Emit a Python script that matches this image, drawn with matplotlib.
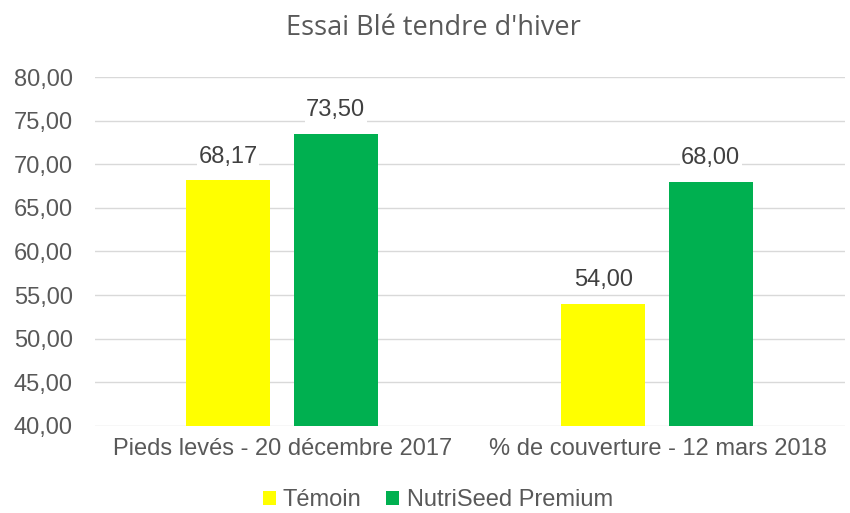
import matplotlib.pyplot as plt
import numpy as np

categories = ['Pieds levés - 20 décembre 2017', '% de couverture - 12 mars 2018']
temoin = [68.17, 54.00]
nutriseed = [73.50, 68.00]
series_names = ['Témoin', 'NutriSeed Premium']
y_ticks = [40, 45, 50, 55, 60, 65, 70, 75, 80]

YELLOW = '#FFFF00'
GREEN = '#00B050'
TEXT = '#595959'

plt.rcParams['font.family'] = ['Liberation Sans', 'DejaVu Sans']

fig = plt.figure(figsize=(8.5, 5.13), dpi=100)
ax = fig.add_axes([0.1118, 0.1696, 0.8824, 0.6803])

x = np.arange(len(categories))
width = 0.224
b1 = ax.bar(x - 0.1445, temoin, width, color=YELLOW, label=series_names[0], zorder=2)
b2 = ax.bar(x + 0.1415, nutriseed, width, color=GREEN, label=series_names[1], zorder=2)

def fmt(v):
    return f'{v:.2f}'.replace('.', ',')

# data labels with white background over the gridlines
for bars, vals in ((b1, temoin), (b2, nutriseed)):
    for rect, v in zip(bars, vals):
        ax.annotate(fmt(v), (rect.get_x() + rect.get_width() / 2, v),
                    xytext=(0, 9), textcoords='offset points',
                    ha='center', va='bottom', fontsize=17, color='#404040',
                    bbox=dict(facecolor='white', edgecolor='none', pad=1), zorder=3)

ax.set_xlim(-0.5, 1.5)
ax.set_ylim(40, 80)
ax.set_yticks(y_ticks)
ax.set_yticklabels([fmt(t) for t in y_ticks])
ax.set_xticks(x)
ax.set_xticklabels(categories)
ax.grid(axis='y', color='#D9D9D9', linewidth=1, zorder=0)
for s in ax.spines.values():
    s.set_visible(False)
ax.tick_params(axis='both', length=0, labelsize=17, colors=TEXT)
ax.tick_params(axis='y', pad=16)
ax.tick_params(axis='x', pad=9)

fig.text(0.5105, 0.945, "Essai Blé tendre d'hiver", ha='center', va='center',
         fontsize=19.5, color=TEXT, family=['Open Sans', 'DejaVu Sans'])

fig.legend(loc='center', bbox_to_anchor=(0.515, 0.025), ncol=2, frameon=False,
           fontsize=17, labelcolor=TEXT, handlelength=0.55, handleheight=0.55,
           handletextpad=0.3, columnspacing=1.05)

fig.savefig('out.png', dpi=100)
